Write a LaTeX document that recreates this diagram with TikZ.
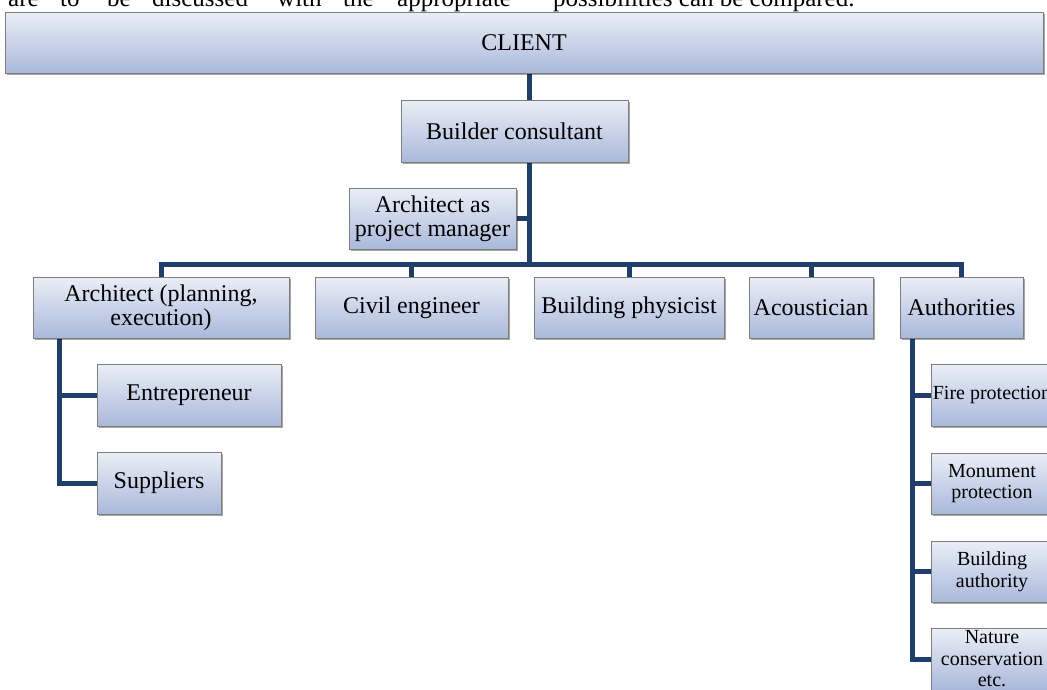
\documentclass[tikz,border=0pt]{standalone}
\usepackage{fontspec}
\setmainfont{Liberation Serif}
\usetikzlibrary{shadows,backgrounds}
\definecolor{boxtop}{RGB}{234,238,247}
\definecolor{boxbot}{RGB}{170,184,218}
\definecolor{boxline}{RGB}{125,125,125}
\definecolor{linecol}{RGB}{32,62,106}
\tikzset{
  orgbox/.style={draw=boxline, line width=0.9pt, top color=boxtop, bottom color=boxbot,
    drop shadow={shadow xshift=2pt, shadow yshift=-2pt, opacity=0.35, fill=black},
    align=center, inner sep=0pt, font=\fontsize{24}{24}\selectfont},
  smallbox/.style={orgbox, font=\fontsize{20}{21.5}\selectfont},
  conn/.style={draw=linecol, line width=5pt},
  toptext/.style={anchor=base west, inner sep=0pt, font=\fontsize{25}{25}\selectfont}
}
\begin{document}
\begin{tikzpicture}[x=1pt,y=1pt]
\useasboundingbox (0,0) rectangle (1047,-689);
\begin{scope}
\clip (0,0) rectangle (1047,-689);
% clipped running text at the top
\node[toptext] (w1) at (8,-6) {are};
\node[toptext] (w2) at (60,-6) {to};
\node[toptext] (w3) at (107,-6) {be};
\node[toptext] (w4) at (152,-6) {discussed};
\node[toptext] (w5) at (277,-6) {with};
\node[toptext] (w6) at (343,-6) {the};
\node[toptext] (w7) at (397,-6) {appropriate};
\node[toptext] (w8) at (553,-6) {possibilities can be compared.};

% boxes
\node[orgbox, minimum width=1038, minimum height=61] (client) at (524,-42.5) {CLIENT};
\node[orgbox, minimum width=227, minimum height=62] (builder) at (514.5,-131) {Builder consultant};
\node[orgbox, minimum width=167, minimum height=61] (apm) at (432.5,-218.5) {Architect as\\project manager};
\node[orgbox, minimum width=256, minimum height=61] (arch) at (161,-307.5) {Architect (planning,\\execution)};
\node[orgbox, minimum width=193, minimum height=61] (civil) at (411.5,-307.5) {Civil engineer};
\node[orgbox, minimum width=190, minimum height=61] (bphys) at (629,-307.5) {Building physicist};
\node[orgbox, minimum width=124, minimum height=61] (acou) at (811,-307.5) {Acoustician};
\node[orgbox, minimum width=123, minimum height=61] (auth) at (961.5,-307.5) {Authorities};
\node[orgbox, minimum width=184, minimum height=62] (entre) at (189,-395) {Entrepreneur};
\node[orgbox, minimum width=124, minimum height=62] (suppl) at (159,-483) {Suppliers};
\node[smallbox, minimum width=122, minimum height=62] (fire) at (992,-395) {Fire protection};
\node[smallbox, minimum width=122, minimum height=61] (monu) at (992,-483.5) {Monument\\protection};
\node[smallbox, minimum width=122, minimum height=61] (bauth) at (992,-571.5) {Building\\authority};
\node[smallbox, minimum width=122, minimum height=62] (nature) at (992,-659) {Nature\\conservation\\etc.};

\coordinate (trunk) at (529,-264);
\coordinate (archv) at (59,0);
\coordinate (authv) at (912,0);

\begin{scope}[on background layer]
\draw[conn] (client.south -| trunk) -- (builder.north -| trunk);
\draw[conn] (builder.south -| trunk) -- (trunk);
\draw[conn] (apm.east) -- (apm.east -| trunk);
\draw[conn] (arch.north) |- (trunk) -| (auth.north);
\draw[conn] (civil.north) -- (civil.north |- trunk);
\draw[conn] (bphys.north) -- (bphys.north |- trunk);
\draw[conn] (acou.north) -- (acou.north |- trunk);
\draw[conn] (arch.south -| archv) |- (suppl.west);
\draw[conn] (entre.west) -- (entre.west -| archv);
\draw[conn] (auth.south -| authv) |- (nature.west);
\draw[conn] (fire.west) -- (fire.west -| authv);
\draw[conn] (monu.west) -- (monu.west -| authv);
\draw[conn] (bauth.west) -- (bauth.west -| authv);
\end{scope}
\end{scope}
\end{tikzpicture}
\end{document}
